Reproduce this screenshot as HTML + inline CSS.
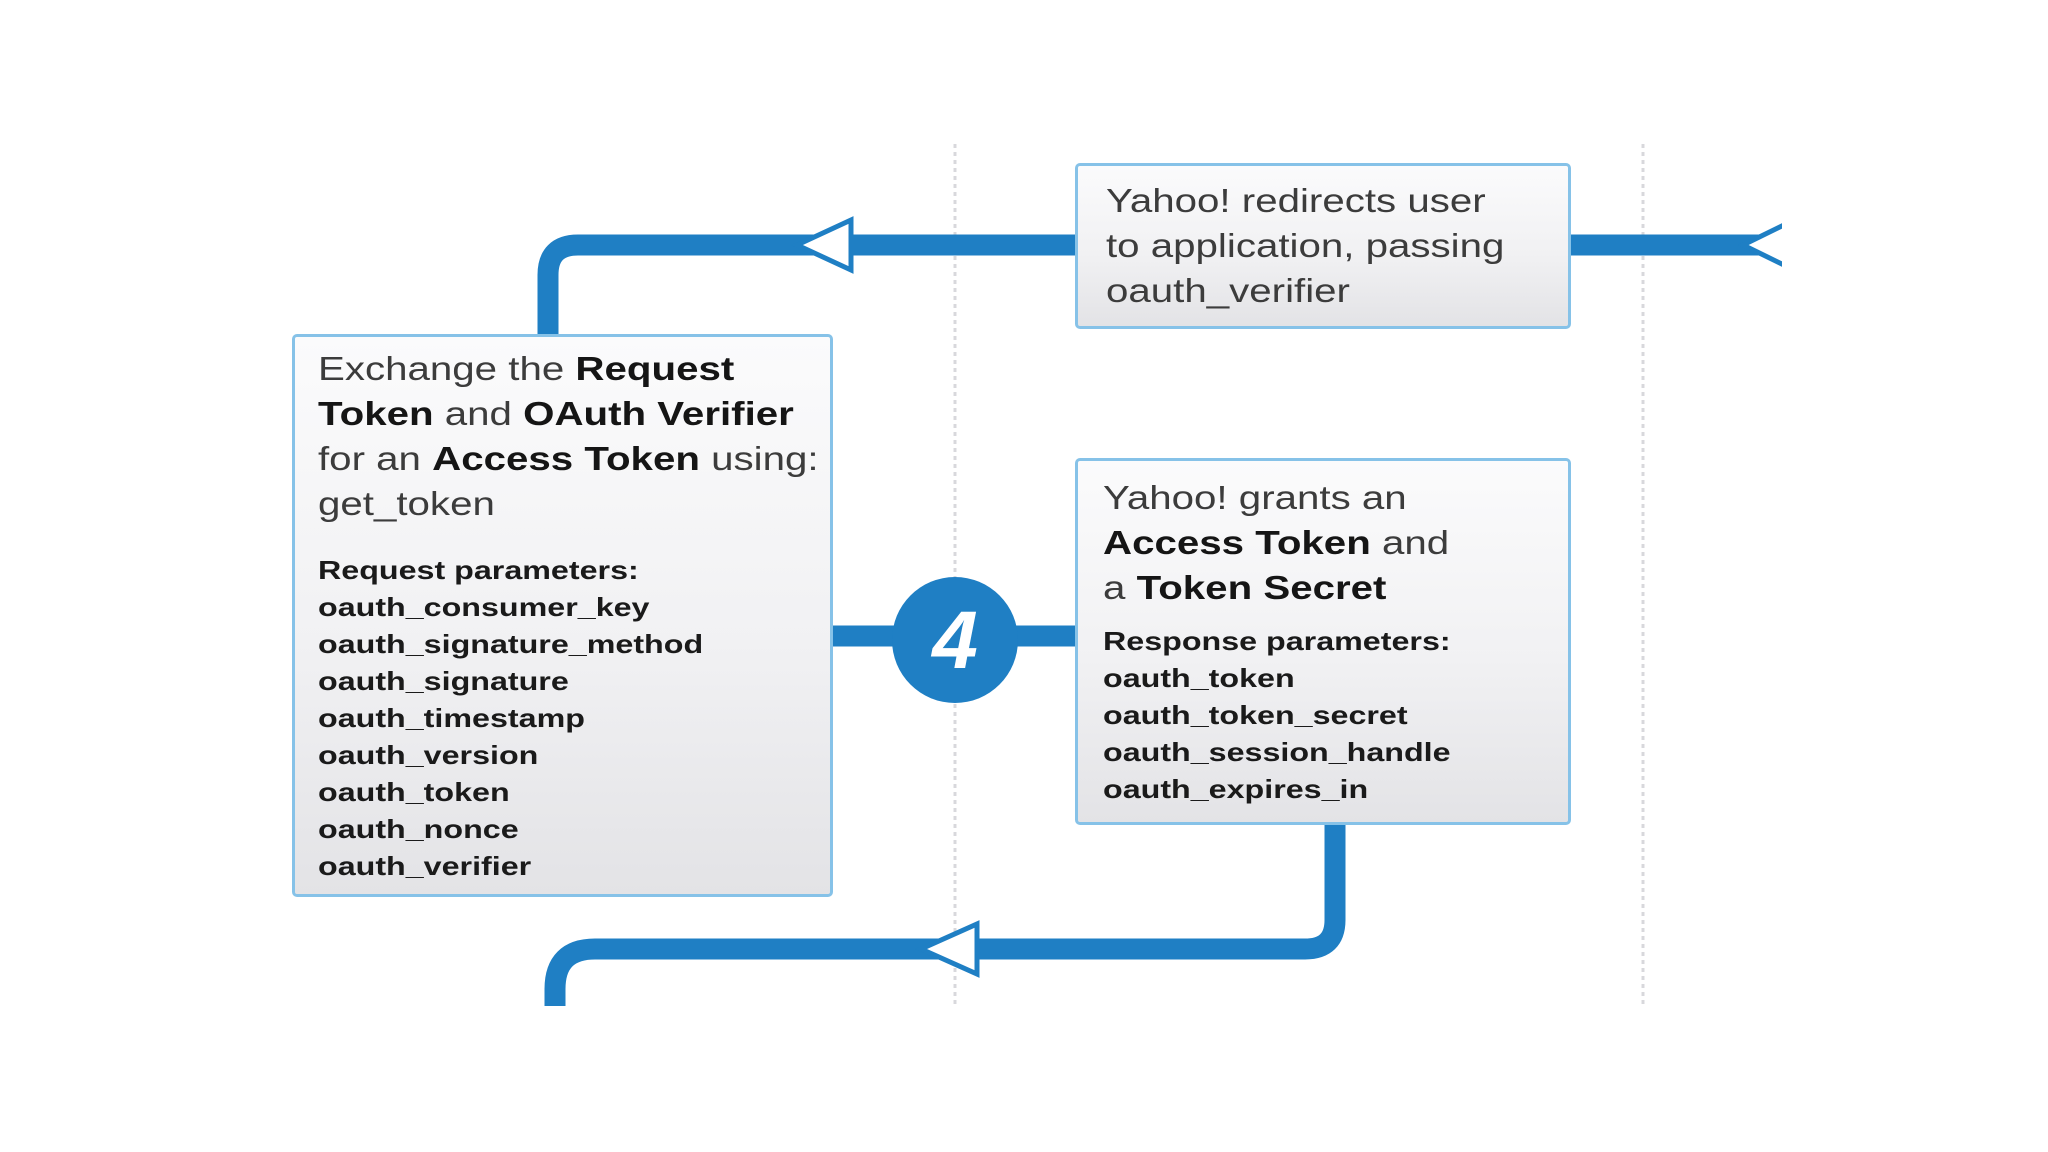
<!DOCTYPE html>
<html><head><meta charset="utf-8"><style>
html,body{margin:0;padding:0;background:#fff;}
body{width:2048px;height:1152px;position:relative;overflow:hidden;font-family:"Liberation Sans",sans-serif;}
svg{position:absolute;left:0;top:0;}
.box{position:absolute;box-sizing:border-box;border:3px solid #86c2e8;border-radius:5px;background:linear-gradient(180deg,#fbfbfc 0%,#f1f1f3 55%,#e3e3e6 100%);}
.t{position:absolute;white-space:nowrap;color:#3c3c3c;font-size:33px;line-height:45px;transform:scaleX(1.22);transform-origin:0 0;}
.t b{color:#151515;}
.p{position:absolute;white-space:nowrap;color:#1a1a1a;font-size:26px;line-height:37px;font-weight:bold;transform:scaleX(1.24);transform-origin:0 0;}
</style></head><body>
<svg width="2048" height="1152" viewBox="0 0 2048 1152">
  <line x1="955" y1="144" x2="955" y2="1006" stroke="#d8d8dc" stroke-width="3" stroke-dasharray="4 4"/>
  <line x1="1643" y1="144" x2="1643" y2="1006" stroke="#d8d8dc" stroke-width="3" stroke-dasharray="4 4"/>
  <path d="M548 334 V275 Q548 245 578 245 H1780" fill="none" stroke="#1f7fc4" stroke-width="21"/>
  <path d="M1335 825 V920 Q1335 949 1305 949 H595 Q555 949 555 989 V1006" fill="none" stroke="#1f7fc4" stroke-width="21"/>
  <line x1="833" y1="636" x2="1075" y2="636" stroke="#1f7fc4" stroke-width="21"/>
  <circle cx="955" cy="640" r="63" fill="#1f7fc4"/>
  <text x="955" y="668" font-family="Liberation Sans,sans-serif" font-size="82" font-weight="bold" font-style="italic" fill="#fff" text-anchor="middle">4</text>
  <polygon points="797,245 851,220 851,270" fill="#fff" stroke="#1f7fc4" stroke-width="5"/>
  <polygon points="921,949 977,924 977,974" fill="#fff" stroke="#1f7fc4" stroke-width="5"/>
  <polygon points="1743,245 1790,222 1790,268" fill="#fff" stroke="#1f7fc4" stroke-width="5"/>
  <rect x="1782" y="200" width="40" height="90" fill="#fff"/>
</svg>

<div class="box" style="left:292px;top:334px;width:541px;height:563px;"></div>
<div class="t" style="left:318px;top:346px;">Exchange the <b>Request</b></div>
<div class="t" style="left:318px;top:391px;"><b>Token</b> and <b>OAuth Verifier</b></div>
<div class="t" style="left:318px;top:436px;">for an <b>Access Token</b> using:</div>
<div class="t" style="left:318px;top:481px;">get_token</div>
<div class="p" style="left:318px;top:552px;">Request parameters:</div>
<div class="p" style="left:318px;top:589px;">oauth_consumer_key</div>
<div class="p" style="left:318px;top:626px;">oauth_signature_method</div>
<div class="p" style="left:318px;top:663px;">oauth_signature</div>
<div class="p" style="left:318px;top:700px;">oauth_timestamp</div>
<div class="p" style="left:318px;top:737px;">oauth_version</div>
<div class="p" style="left:318px;top:774px;">oauth_token</div>
<div class="p" style="left:318px;top:811px;">oauth_nonce</div>
<div class="p" style="left:318px;top:848px;">oauth_verifier</div>

<div class="box" style="left:1075px;top:163px;width:496px;height:166px;"></div>
<div class="t" style="left:1106px;top:178px;">Yahoo! redirects user</div>
<div class="t" style="left:1106px;top:223px;">to application, passing</div>
<div class="t" style="left:1106px;top:268px;">oauth_verifier</div>

<div class="box" style="left:1075px;top:458px;width:496px;height:367px;"></div>
<div class="t" style="left:1103px;top:475px;">Yahoo! grants an</div>
<div class="t" style="left:1103px;top:520px;"><b>Access Token</b> and</div>
<div class="t" style="left:1103px;top:565px;">a <b>Token Secret</b></div>
<div class="p" style="left:1103px;top:623px;">Response parameters:</div>
<div class="p" style="left:1103px;top:660px;">oauth_token</div>
<div class="p" style="left:1103px;top:697px;">oauth_token_secret</div>
<div class="p" style="left:1103px;top:734px;">oauth_session_handle</div>
<div class="p" style="left:1103px;top:771px;">oauth_expires_in</div>
</body></html>
